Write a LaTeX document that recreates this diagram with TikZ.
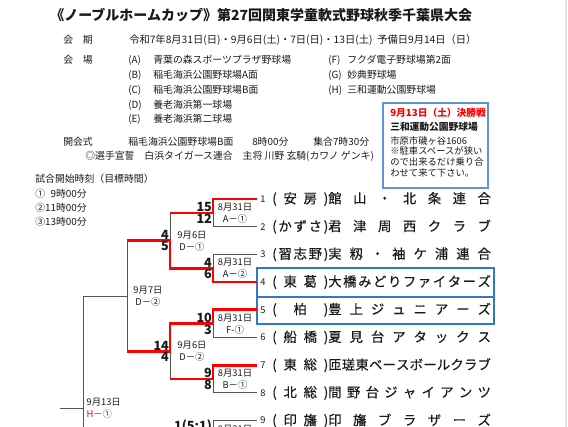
\documentclass[tikz,border=0pt]{standalone}
\usepackage{fontspec}
\setmainfont{Noto Sans CJK JP}
\usepackage{tikz}
\definecolor{ink}    {HTML}{1A1A1A}
\definecolor{wire}   {HTML}{555555}
\definecolor{winred} {HTML}{FF0000}
\definecolor{boxblue}{HTML}{2E7BC4}
\definecolor{noteblu}{HTML}{5E95D8}
\definecolor{pageedge}{HTML}{E2E2E2}
% spread the letters of a word over the width of its box
\def\sprd#1{\expandafter\sprdA#1\relax}
\def\sprdA#1{#1\futurelet\sprdnext\sprdB}
\def\sprdB{\ifx\sprdnext\relax\expandafter\sprdEnd\else\hfill\expandafter\sprdA\fi}
\def\sprdEnd\relax{}
\tikzset{
  every node/.style={inner sep=0pt, text=ink},
  % --- nodes
  ttl/.style   = {anchor=west, font=\fontsize{10.5}{12}\selectfont\bfseries},
  hdr/.style   = {anchor=west, font=\fontsize{7.4}{9}\selectfont},
  hdrw/.style  = {anchor=west, font=\fontsize{7.7}{9}\selectfont},
  memo/.style  = {anchor=west, font=\fontsize{7}{8}\selectfont},
  memob/.style = {memo, font=\fontsize{7.3}{8}\selectfont\bfseries},
  num/.style   = {font=\fontsize{7}{8}\selectfont},
  team/.style  = {anchor=west, font=\fontsize{10}{12}\selectfont\addfontfeature{FakeBold=0.4}},
  sc/.style    = {font=\fontsize{9.5}{10}\selectfont\bfseries, inner sep=0.6pt},
  scup/.style  = {sc, anchor=south east},
  scdn/.style  = {sc, anchor=north east},
  dt/.style    = {font=\fontsize{7}{8}\selectfont, inner sep=1pt},
  dtup/.style  = {dt, anchor=south},
  dtdn/.style  = {dt, anchor=north},
  % --- edges
  ln/.style    = {draw=wire, line width=0.6pt},
  win/.style   = {draw=winred, line width=2pt, line join=miter},
  boxln/.style = {draw=boxblue, line width=1pt},
}
\begin{document}
\begin{tikzpicture}[x=0.75pt, y=-0.75pt]
  \useasboundingbox (0,0) rectangle (568,427);
  \clip (0,0) rectangle (568,427);
  \draw[draw=pageedge, line width=1.2pt] (566,0) -- (566,427);

  % --- header
  \node[ttl] (ttl) at (50,15) {《ノーブルホームカップ》第27回関東学童軟式野球秋季千葉県大会};
  \node[hdr] (kki) at (63,40) {会　期};
  \node[hdrw] (kkd) at (129,40) {令和7年8月31日(日)・9月6日(土)・7日(日)・13日(土)};
  \node[hdrw] (kky) at (377,40) {予備日9月14日（日）};
  \node[hdr] (kjo) at (63,60) {会　場};
  \foreach \k/\y/\v in {A/60/青葉の森スポーツプラザ野球場, B/75/稲毛海浜公園野球場A面,
      C/90/稲毛海浜公園野球場B面, D/105/養老海浜第一球場, E/119/養老海浜第二球場}{
    \node[hdr] (k\k) at (128,\y) {(\k)};
    \node[hdr] (v\k) at (153,\y) {\v};
  }
  \foreach \k/\y/\v in {F/60/フクダ電子野球場第2面, G/75/妙典野球場, H/90/三和運動公園野球場}{
    \node[hdr] (k\k) at (328,\y) {(\k)};
    \node[hdr] (v\k) at (347,\y) {\v};
  }
  \node[hdr] (kai)  at (63,142)  {開会式};
  \node[hdr] (kaib) at (128,142) {稲毛海浜公園野球場B面};
  \node[hdr] (kait) at (252,142) {8時00分};
  \node[hdr] (shu)  at (313,142) {集合7時30分};
  \node[hdr] (sen)  at (85,156)  {◎選手宣誓　白浜タイガース連合　主将 川野 玄騎(カワノ ゲンキ)};

  % --- start times
  \node[hdr] (jk)  at (35,179)   {試合開始時刻（目標時間）};
  \node[hdr] (jk1) at (35,193.5) {①\hphantom{1}9時00分};
  \node[hdr] (jk2) at (35,207.5) {②11時00分};
  \node[hdr] (jk3) at (35,221.5) {③13時00分};

  % --- final notice
  \draw[draw=noteblu, line width=1.5pt] (383,103) rectangle (488,188);
  \node[memob, text=winred] (fn1) at (390,112.5) {9月13日（土）決勝戦};
  \node[memob] (fn2) at (390,127)   {三和運動公園野球場};
  \node[memo]  (fn3) at (390,140.5) {市原市磯ヶ谷1606};
  \node[memo]  (fn4) at (390,151)   {※駐車スペースが狭い};
  \node[memo]  (fn5) at (390,162)   {ので出来るだけ乗り合};
  \node[memo]  (fn6) at (390,173)   {わせて来て下さい。};

  % --- teams
  \foreach \i/\y/\pre/\name in {1/199/(安房)/館山・北条連合, 2/226.7/(かずさ)/君津周西クラブ,
      3/254.4/(習志野)/実籾・袖ケ浦連合, 4/282.1/(東葛)/大橋みどりファイターズ,
      5/309.8/(柏)/豊上ジュニアーズ, 6/337.5/(船橋)/夏見台アタックス,
      7/365.2/(東総)/匝瑳東ベースボールクラブ, 8/392.9/(北総)/間野台ジャイアンツ,
      9/420.6/(印旛)/印旛ブラザーズ}{
    \coordinate (e\i) at (257,\y);
    \coordinate (a\i) at (213,\y);
    \node[num] (n\i) at (263,\y) {\i};
    \node[team] (t\i) at (272,\y) {\makebox[42pt][s]{\sprd\pre}\makebox[122pt][s]{\sprd\name}};
  }
  \coordinate (a10) at (213,448.3);
  \draw[boxln] (257,268) rectangle (494,324);
  \draw[boxln] (257,297) -- (494,297);

  % --- bracket points
  \coordinate (m1) at (213,212.85);  \coordinate (b1) at (170,212.85);
  \coordinate (m2) at (213,268.25);  \coordinate (b2) at (170,268.25);
  \coordinate (m3) at (213,323.65);  \coordinate (b3) at (170,323.65);
  \coordinate (m4) at (213,379.05);  \coordinate (b4) at (170,379.05);
  \coordinate (q1) at (170,240.55);  \coordinate (c1) at (127,240.55);
  \coordinate (q2) at (170,351.35);  \coordinate (c2) at (127,351.35);
  \coordinate (s1) at (127,295.95);  \coordinate (f1) at (83,295.95);
  \coordinate (f2) at (83,520);
  \coordinate (fm) at (83,408);      \coordinate (fo) at (60,408);

  \draw[ln] (e1) -- (a1) -- (a2) -- (e2);
  \draw[ln] (e3) -- (a3) -- (a4) -- (e4);
  \draw[ln] (e5) -- (a5) -- (a6) -- (e6);
  \draw[ln] (e7) -- (a7) -- (a8) -- (e8);
  \draw[ln] (e9) -- (a9) -- (a10);
  \draw[ln] (m1) -- (b1) -- (b2) -- (m2);
  \draw[ln] (m3) -- (b3) -- (b4) -- (m4);
  \draw[ln] (q1) -- (c1) -- (c2) -- (q2);
  \draw[ln] (s1) -- (f1) -- (f2);
  \draw[ln] (fm) -- (fo);
  % winners
  \draw[win] (e1) -- (a1) -- (m1) -- (b1);
  \draw[win] (e4) -- (a4) -- (m2) -- (b2) -- (q1) -- (c1);
  \draw[win] (e5) -- (a5) -- (m3) -- (b3) -- (q2) -- (c2);
  \draw[win] (e7) -- (a7) -- (m4) -- (b4);

  % --- scores and fixtures
  \node[scup] (p1) at (m1) {15};  \node[scdn] (r1) at (m1) {12};
  \node[scup] (p2) at (m2) {4};   \node[scdn] (r2) at (m2) {6};
  \node[scup] (p3) at (m3) {10};  \node[scdn] (r3) at (m3) {3};
  \node[scup] (p4) at (m4) {9};   \node[scdn] (r4) at (m4) {8};
  \node[scup] (p5) at (213,434.45) {1(5:1)};
  \node[scup] (p6) at (q1) {4};   \node[scdn] (r6) at (q1) {5};
  \node[scup] (p7) at (q2) {14};  \node[scdn] (r7) at (q2) {4};

  \node[dtup] (d1) at (235,212.85) {8月31日};  \node[dtdn] (g1) at (235,212.85) {A－①};
  \node[dtup] (d2) at (235,268.25) {8月31日};  \node[dtdn] (g2) at (235,268.25) {A－②};
  \node[dtup] (d3) at (235,323.65) {8月31日};  \node[dtdn] (g3) at (235,323.65) {F-①};
  \node[dtup] (d4) at (235,379.05) {8月31日};  \node[dtdn] (g4) at (235,379.05) {B－①};
  \node[dtup] (d5) at (235,434.45) {8月31日};
  \node[dtup] (d6) at (192,240.55) {9月6日};   \node[dtdn] (g6) at (192,240.55) {D－①};
  \node[dtup] (d7) at (192,351.35) {9月6日};   \node[dtdn] (g7) at (192,351.35) {D－②};
  \node[dtup] (d8) at (148,295.95) {9月7日};   \node[dtdn] (g8) at (148,295.95) {D－②};
  \node[dt, anchor=south west] (d9) at (85,408) {9月13日};
  \node[dt, anchor=north west, text=winred] (g9) at (85,408) {H－①};
\end{tikzpicture}
\end{document}
